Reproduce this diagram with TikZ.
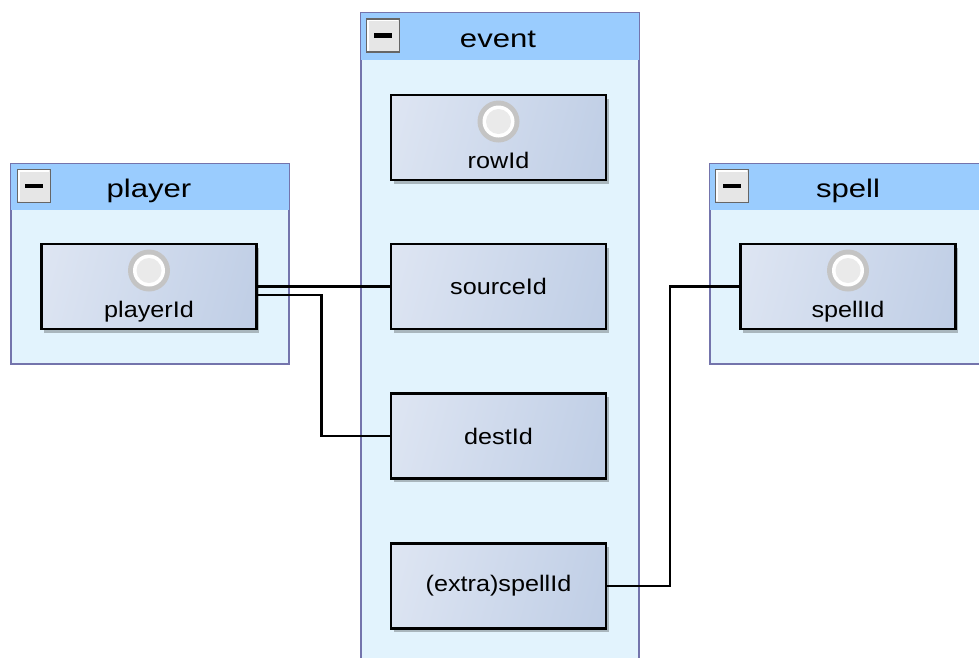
\documentclass[tikz,border=0pt]{standalone}
\usepackage{fontspec}
\setmainfont{Liberation Sans}
\usetikzlibrary{shadows}
\definecolor{hdr}{HTML}{9ACCFE}
\definecolor{bodyc}{HTML}{E2F3FD}
\definecolor{framec}{HTML}{7474AC}
\definecolor{keyL}{HTML}{E8EDF7}
\definecolor{keyR}{HTML}{B5C6E1}
\definecolor{ringgray}{HTML}{C4C4C4}
\definecolor{dotgray}{HTML}{EAEAEA}
\definecolor{btnfill}{HTML}{E6E6E6}
\definecolor{btnedge}{HTML}{666666}
\pgfdeclarehorizontalshading{keyshade}{100bp}{color(0bp)=(keyL); color(100bp)=(keyR)}
\newcommand\lblfont{\fontsize{22.5}{26}\selectfont}
\newcommand\ttlfont{\fontsize{25.5}{30}\selectfont}
\newcommand\lbl[1]{\lblfont\scalebox{1.12}[1]{#1}}
\newcommand\ttl[1]{\ttlfont\scalebox{1.22}[1]{#1}}
\tikzset{
  container/.style={draw=framec, line width=2pt, fill=bodyc, inner sep=0pt, anchor=north west},
  keybox/.style={draw=black, line width=2.2pt, shading=keyshade, shading angle=-15,
    minimum width=215pt, minimum height=85pt, inner sep=0pt,
    drop shadow={shadow xshift=2.5pt, shadow yshift=-3.5pt, opacity=0.25, fill=black}},
  btn/.style={draw=btnedge, line width=1.8pt, fill=btnfill, minimum size=33pt, inner sep=0pt},
  ring/.style={circle, fill=ringgray, minimum size=42pt, inner sep=0pt},
  ringin/.style={circle, fill=white, minimum size=32pt, inner sep=0pt},
  ringdot/.style={circle, fill=dotgray, minimum size=25pt, inner sep=0pt},
  conn/.style={draw=black, line width=2.3pt},
  title/.style={anchor=base, inner sep=0pt},
  keytext/.style={anchor=base, inner sep=0pt},
}
\begin{document}
\begin{tikzpicture}[x=1pt, y=-1pt]
\clip (0,0) rectangle (979,657);
\fill[white] (0,0) rectangle (979,657);

% containers
\node[container, minimum width=278pt, minimum height=670pt] (eventC) at (360,12) {};
\fill[hdr] ([shift={(1pt,-1pt)}]eventC.north west) rectangle ([shift={(-1pt,-48pt)}]eventC.north east);
\node[container, minimum width=278pt, minimum height=200pt] (playerC) at (10,163) {};
\fill[hdr] ([shift={(1pt,-1pt)}]playerC.north west) rectangle ([shift={(-1pt,-47pt)}]playerC.north east);
\node[container, minimum width=278pt, minimum height=200pt] (spellC) at (709,163) {};
\fill[hdr] ([shift={(1pt,-1pt)}]spellC.north west) rectangle ([shift={(-1pt,-47pt)}]spellC.north east);

% buttons
\foreach \n/\x/\y in {eventB/383/35.5, playerB/34/186, spellB/732/186}{
  \node[btn] (\n) at (\x,\y) {};
  \draw[white, line width=1.4pt] ([shift={(2.4pt,2.4pt)}]\n.south west) |- ([shift={(-2.4pt,-2.4pt)}]\n.north east);
  \draw[black, line width=4.2pt] ([xshift=-9pt]\n.center) -- ([xshift=9pt]\n.center);
}

% titles
\node[title] (eventT) at (498,47) {\ttl{event}};
\node[title] (playerT) at (149,197.5) {\ttl{player}};
\node[title] (spellT) at (848,197.5) {\ttl{spell}};

% key nodes
\node[keybox] (rowK) at (498.5,137.5) {};
\node[keybox] (sourceK) at (498.5,286.5) {\lbl{sourceId}};
\node[keybox] (destK) at (498.5,436) {\lbl{destId}};
\node[keybox] (extraK) at (498.5,586) {\lbl{(extra)spellId}};
\node[keybox] (playerK) at (149,286.5) {};
\node[keybox] (spellK) at (848,286.5) {};

% connectors
\draw[conn] (playerK.east) -- (sourceK.west);
\draw[conn] ([yshift=-8.5pt]playerK.east) -- ++(64pt,0pt) |- (destK.west);
\draw[conn] (extraK.east) -- ++(63pt,0pt) |- (spellK.west);

% key icons and labels
\foreach \k/\t in {rowK/rowId, playerK/playerId, spellK/spellId}{
  \node[ring] (\k R) at ([yshift=16pt]\k.center) {};
  \node[ringin] at (\k R.center) {};
  \node[ringdot] at (\k R.center) {};
  \node[keytext] (\k T) at ([yshift=-31pt]\k.center) {\lbl{\t}};
}
\end{tikzpicture}
\end{document}
